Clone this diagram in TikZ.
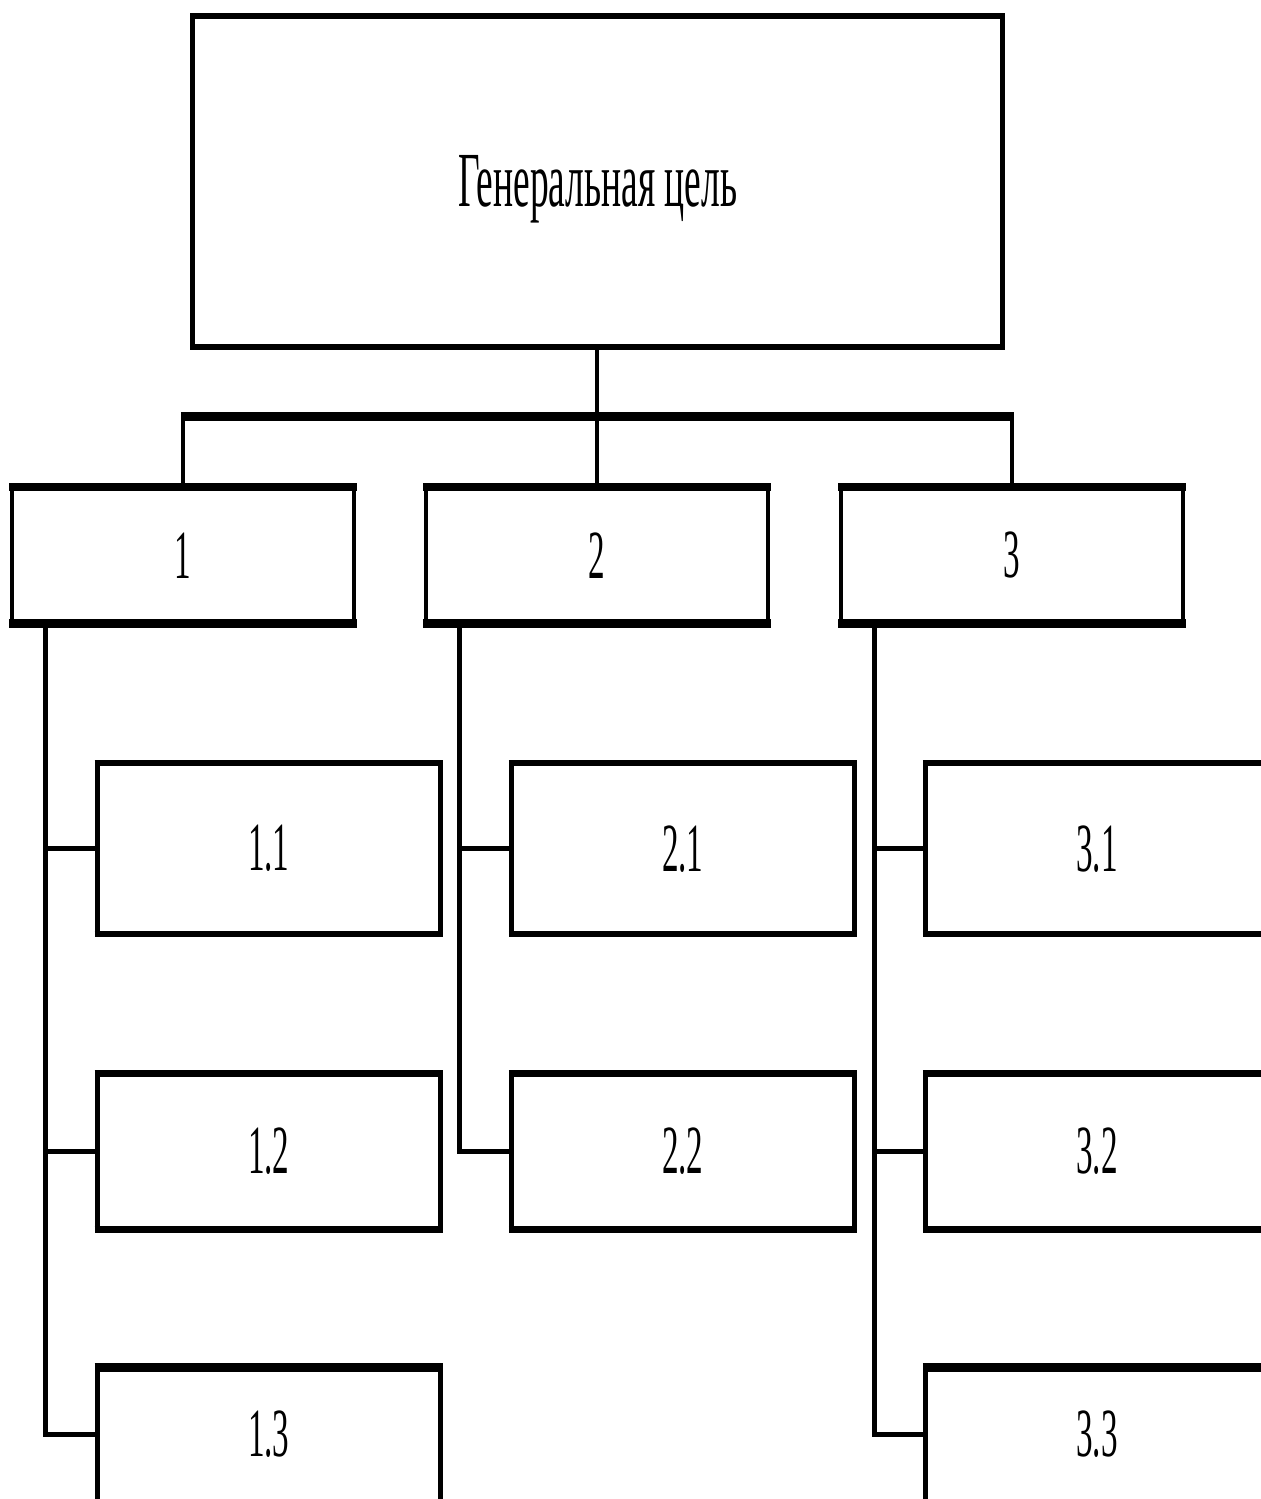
\documentclass[tikz,border=0pt]{standalone}
\usepackage{fontspec}
\usepackage{graphicx}
\setmainfont{Liberation Serif}
\newcommand{\lbl}[1]{\scalebox{0.48}[1]{#1}}
\newcommand{\boxsides}[2]{%
  \draw[line width=#2] (#1.north west) -- (#1.south west);
  \draw[line width=#2] (#1.north east) -- (#1.south east);}
\newcommand{\boxtop}[2]{%
  \draw[line width=#2, shorten <=-1.2pt, shorten >=-1.2pt] (#1.north west) -- (#1.north east);}
\newcommand{\boxbottom}[2]{%
  \draw[line width=#2, shorten <=-1.2pt, shorten >=-1.2pt] (#1.south west) -- (#1.south east);}
\newcommand{\boxedges}[3]{\boxsides{#1}{#2}\boxtop{#1}{#3}\boxbottom{#1}{#3}}
\tikzset{
  box/.style={rectangle, draw=none, inner sep=0pt, font=\fontsize{34.5}{40}\selectfont},
  lvlone/.style={box, minimum width=171pt, minimum height=67.75pt},
  rowone/.style={box, minimum width=171.25pt, minimum height=85pt},
  rowtwo/.style={box, minimum width=171.25pt, minimum height=77.75pt},
  rowthree/.style={box, minimum width=171.25pt, minimum height=66.5pt},
  dropline/.style={line width=2.25pt},
  busline/.style={line width=4.25pt, shorten <=-1.1pt, shorten >=-1.1pt},
  colline/.style={line width=2.3pt},
  stubline/.style={line width=2.7pt}
}
\begin{document}
\begin{tikzpicture}[x=0.5pt,y=-0.5pt]
\path[use as bounding box, fill=white] (0,0) rectangle (1261,1499);
\clip (0,0) rectangle (1261,1499);

% top box
\node[box, minimum width=404.75pt, minimum height=165pt, text depth=0pt,
      font=\fontsize{39}{44}\selectfont] (g) at (597.75,181.3) {\lbl{Генеральная цель}};

% level 1
\node[lvlone] (n1) at (183,555.25) {\lbl{1}};
\node[lvlone] (n2) at (597,555.25) {\lbl{2}};
\node[lvlone] (n3) at (1012,555.25) {\lbl{3}};

% level 2
\node[rowone] (a11) at (268.7,848.7) {\lbl{1.1}};
\node[rowone] (a21) at (682.8,848.7) {\lbl{2.1}};
\node[rowone] (a31) at (1097,848.7) {\lbl{3.1}};
\node[rowtwo] (a12) at (268.7,1151.5) {\lbl{1.2}};
\node[rowtwo] (a22) at (682.8,1151.5) {\lbl{2.2}};
\node[rowtwo] (a32) at (1097,1151.5) {\lbl{3.2}};
\node[rowthree] (a13) at (268.7,1434.5) {\lbl{1.3}};
\node[rowthree] (a33) at (1097,1434.5) {\lbl{3.3}};

% box outlines
\boxedges{g}{2.5pt}{3pt}
\boxedges{n1}{2pt}{4.25pt}
\boxedges{n2}{2pt}{4.25pt}
\boxedges{n3}{2pt}{4.25pt}
\boxedges{a11}{2.5pt}{3pt}
\boxedges{a21}{2.5pt}{3pt}
\boxedges{a31}{2.5pt}{3pt}
\boxedges{a12}{2.5pt}{3.8pt}
\boxedges{a22}{2.5pt}{3.8pt}
\boxedges{a32}{2.5pt}{3.8pt}
\boxsides{a13}{2.5pt}\boxtop{a13}{4.5pt}
\boxsides{a33}{2.5pt}\boxtop{a33}{4.5pt}

% bus
\coordinate (bus) at (597,416.5);
\draw[dropline] (n2.north |- g.south) -- (n2.north);
\draw[dropline] (n1.north) -- (n1.north |- bus);
\draw[dropline] (n3.north) -- (n3.north |- bus);
\draw[busline] (n1.north |- bus) -- (n3.north |- bus);

% column lines
\coordinate (c1) at ([xshift=16.9pt]n1.south west);
\coordinate (c2) at ([xshift=16.9pt]n2.south west);
\coordinate (c3) at ([xshift=16.9pt]n3.south west);
\draw[colline] (c1) |- (a13.west);
\draw[stubline] (a11.west) -- (a11.west -| c1);
\draw[stubline] (a12.west) -- (a12.west -| c1);
\draw[colline] (c2) |- (a22.west);
\draw[stubline] (a21.west) -- (a21.west -| c2);
\draw[colline] (c3) |- (a33.west);
\draw[stubline] (a31.west) -- (a31.west -| c3);
\draw[stubline] (a32.west) -- (a32.west -| c3);
\end{tikzpicture}
\end{document}
